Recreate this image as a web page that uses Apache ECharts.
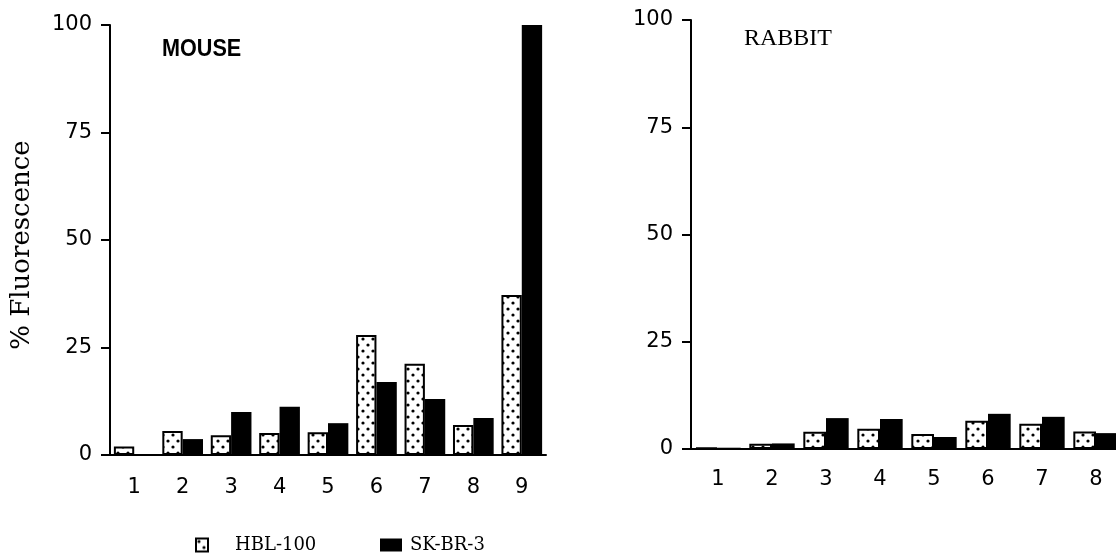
<!DOCTYPE html>
<html>
<head>
<meta charset="utf-8">
<script src="https://cdn.jsdelivr.net/npm/echarts@6/dist/echarts.min.js"></script>
<style>
  html, body { margin: 0; padding: 0; background: #fff; }
  #chart { width: 1116px; height: 557px; }
</style>
</head>
<body>
<div id="chart"></div>
<script>
// ---- data ----
const mouseCategories = ['1', '2', '3', '4', '5', '6', '7', '8', '9'];
const mouseHBL = [2, 5.6, 4.6, 5.1, 5.3, 27.9, 21.2, 7, 37.2];
const mouseSK = [0, 3.7, 10, 11.2, 7.4, 17, 13, 8.6, 100];

const rabbitCategories = ['1', '2', '3', '4', '5', '6', '7', '8'];
const rabbitHBL = [0.3, 1.2, 4, 4.7, 3.5, 6.6, 5.9, 4.1];
const rabbitSK = [0.3, 1.3, 7.2, 7, 2.8, 8.2, 7.5, 3.7];

const seriesNames = ['HBL-100', 'SK-BR-3'];
const panelTitles = ['MOUSE', 'RABBIT'];
const yAxisName = '% Fluorescence';

// ---- dotted pattern for HBL-100 ----
const pc = document.createElement('canvas');
pc.width = 10; pc.height = 12;
const ctx = pc.getContext('2d');
ctx.fillStyle = '#fff';
ctx.fillRect(0, 0, 10, 12);
ctx.fillStyle = '#000';
ctx.beginPath(); ctx.arc(3, 3, 1.6, 0, Math.PI * 2); ctx.fill();
ctx.beginPath(); ctx.arc(8, 9, 1.6, 0, Math.PI * 2); ctx.fill();
const dotted = { image: pc, repeat: 'repeat' };

const hblStyle = { color: dotted, borderColor: '#000', borderWidth: 2 };
const skStyle = { color: '#000', borderColor: '#000', borderWidth: 0 };

const labelFont = { color: '#000', fontFamily: 'DejaVu Sans', fontSize: 21 };

function xAxis(gridIndex, cats, margin) {
  return {
    type: 'category', gridIndex: gridIndex, data: cats,
    boundaryGap: true,
    axisLine: { lineStyle: { color: '#000', width: 2 } },
    axisTick: { alignWithLabel: true, length: 10, lineStyle: { color: '#000', width: 2 } },
    axisLabel: Object.assign({ margin: margin }, labelFont),
    splitLine: { show: false }
  };
}
function yAxis(gridIndex, withName) {
  const a = {
    type: 'value', gridIndex: gridIndex, min: 0, max: 100, interval: 25,
    axisLine: { show: true, lineStyle: { color: '#000', width: 2 } },
    axisTick: { show: true, length: 9, lineStyle: { color: '#000', width: 2 } },
    axisLabel: Object.assign({ margin: 18 }, labelFont),
    splitLine: { show: false }
  };
  if (withName) {
    a.name = yAxisName;
    a.nameLocation = 'middle';
    a.nameRotate = 90;
    a.nameGap = 75;
    a.nameTextStyle = { color: '#000', fontFamily: 'DejaVu Serif', fontSize: 26, padding: [0, 10, 0, 0] };
  }
  return a;
}

const chart = echarts.init(document.getElementById('chart'), null, { renderer: 'canvas' });
chart.setOption({
  animation: false,
  backgroundColor: '#fff',
  grid: [
    { left: 110, top: 25, width: 436, height: 430, outerBoundsMode: 'none', containLabel: false },
    { left: 691, top: 20, width: 432, height: 429, outerBoundsMode: 'none', containLabel: false }
  ],
  xAxis: [xAxis(0, mouseCategories, 22), xAxis(1, rabbitCategories, 20)],
  yAxis: [yAxis(0, true), yAxis(1, false)],
  legend: [
    {
      data: [seriesNames[0]], left: 190, top: 531, itemWidth: 12, itemHeight: 13,
      icon: 'rect', selectedMode: false,
      textStyle: { color: '#000', fontFamily: 'DejaVu Serif', fontSize: 18, padding: [0, 0, 0, 22] }
    },
    {
      data: [seriesNames[1]], left: 375, top: 531, itemWidth: 22, itemHeight: 13,
      icon: 'rect', selectedMode: false,
      textStyle: { color: '#000', fontFamily: 'DejaVu Serif', fontSize: 18, padding: [0, 0, 0, 3] }
    }
  ],
  graphic: [
    {
      type: 'text', left: 162, top: 37, scaleX: 0.9,
      style: { text: panelTitles[0], font: 'bold 24px "Liberation Sans"', fill: '#000' }
    },
    {
      type: 'text', left: 744, top: 27,
      style: { text: panelTitles[1], font: '24px "Liberation Serif"', fill: '#000' }
    }
  ],
  series: [
    { name: seriesNames[0], type: 'bar', xAxisIndex: 0, yAxisIndex: 0, data: mouseHBL,
      barGap: '0%', barCategoryGap: '16%', itemStyle: hblStyle },
    { name: seriesNames[1], type: 'bar', xAxisIndex: 0, yAxisIndex: 0, data: mouseSK,
      barGap: '0%', barCategoryGap: '16%', itemStyle: skStyle },
    { name: seriesNames[0], type: 'bar', xAxisIndex: 1, yAxisIndex: 1, data: rabbitHBL,
      barGap: '0%', barCategoryGap: '16%', itemStyle: hblStyle },
    { name: seriesNames[1], type: 'bar', xAxisIndex: 1, yAxisIndex: 1, data: rabbitSK,
      barGap: '0%', barCategoryGap: '16%', itemStyle: skStyle }
  ]
});
</script>
</body>
</html>
